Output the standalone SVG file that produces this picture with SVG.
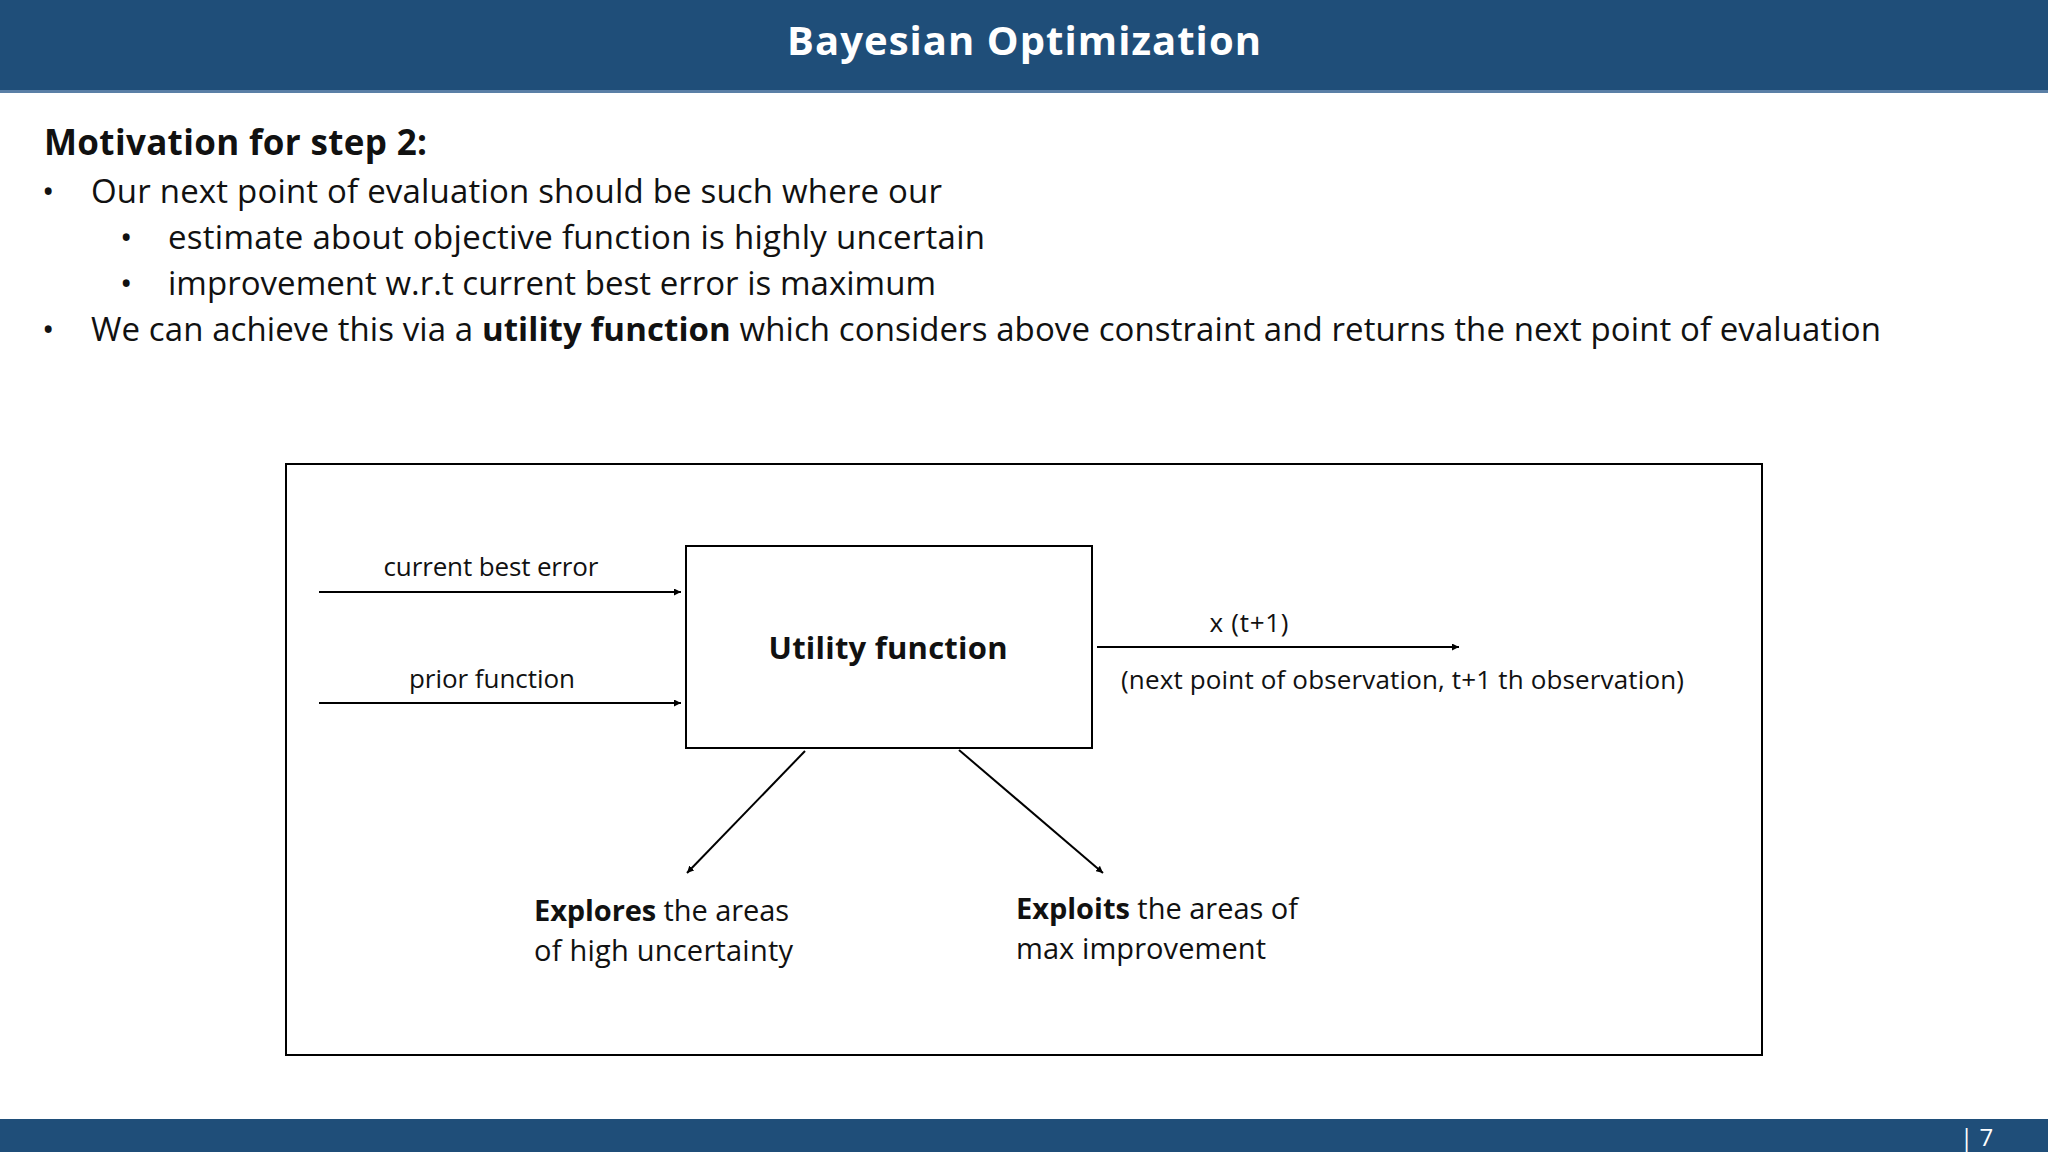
<svg xmlns="http://www.w3.org/2000/svg" width="2048" height="1152" viewBox="0 0 2048 1152">
<defs>
<style>
text{font-family:"Open Sans","Liberation Sans",sans-serif;fill:#111}
.b{font-weight:bold}
.body{font-size:33px}
.lbl{font-size:26px}
.ln{stroke:#000;stroke-width:2;fill:none}
</style>
<marker id="ah" viewBox="0 0 10 10" refX="10" refY="5" markerWidth="7" markerHeight="7" markerUnits="userSpaceOnUse" orient="auto"><path d="M0,0L10,5L0,10z" fill="#000"/></marker>
</defs>
<rect width="2048" height="1152" fill="#fff"/>
<rect x="0" y="0" width="2048" height="92" fill="#1f4e79"/>
<rect x="0" y="90" width="2048" height="3" fill="#5a7fa6"/>
<text x="1024" y="55" text-anchor="middle" class="b" font-size="40" style="fill:#fff" textLength="474">Bayesian Optimization</text>
<text x="44" y="155" class="b" font-size="35" textLength="383">Motivation for step 2:</text>
<g class="body">
<text x="42" y="203">•</text><text x="91" y="203" textLength="851">Our next point of evaluation should be such where our</text>
<text x="120" y="249">•</text><text x="168" y="249" textLength="817">estimate about objective function is highly uncertain</text>
<text x="120" y="295">•</text><text x="168" y="295" textLength="768">improvement w.r.t current best error is maximum</text>
<text x="42" y="341">•</text><text x="91" y="341" textLength="1790">We can achieve this via a <tspan class="b">utility function</tspan> which considers above constraint and returns the next point of evaluation</text>
</g>
<rect x="286" y="464" width="1476" height="591" class="ln"/>
<g id="utility"><rect x="686" y="546" width="406" height="202" class="ln"/>
<text x="888" y="659" text-anchor="middle" class="b" font-size="31" textLength="239">Utility function</text></g>
<g id="connectors">
<line x1="319" y1="592" x2="681" y2="592" class="ln" marker-end="url(#ah)"/>
<line x1="319" y1="703" x2="681" y2="703" class="ln" marker-end="url(#ah)"/>
<line x1="1097" y1="647" x2="1459" y2="647" class="ln" marker-end="url(#ah)"/>
<line x1="805" y1="751" x2="687" y2="873" class="ln" marker-end="url(#ah)"/>
<line x1="959" y1="750" x2="1103" y2="873" class="ln" marker-end="url(#ah)"/>
</g>
<g class="lbl">
<text x="491" y="576" text-anchor="middle" textLength="215">current best error</text>
<text x="492" y="688" text-anchor="middle" textLength="166">prior function</text>
<text x="1249" y="632" text-anchor="middle" textLength="79">x (t+1)</text>
<text x="1121" y="689" textLength="563">(next point of observation, t+1 th observation)</text>
</g>
<g id="explore" font-size="29"><text x="534" y="921" textLength="255"><tspan class="b">Explores</tspan> the areas</text><text x="534" y="961" textLength="259">of high uncertainty</text></g>
<g id="exploit" font-size="29"><text x="1016" y="919" textLength="282"><tspan class="b">Exploits</tspan> the areas of</text><text x="1016" y="959" textLength="250">max improvement</text></g>
<rect x="0" y="1119" width="2048" height="33" fill="#1f4e79"/>
<text x="1960" y="1146" font-size="24" style="fill:#fff">| 7</text>
</svg>
